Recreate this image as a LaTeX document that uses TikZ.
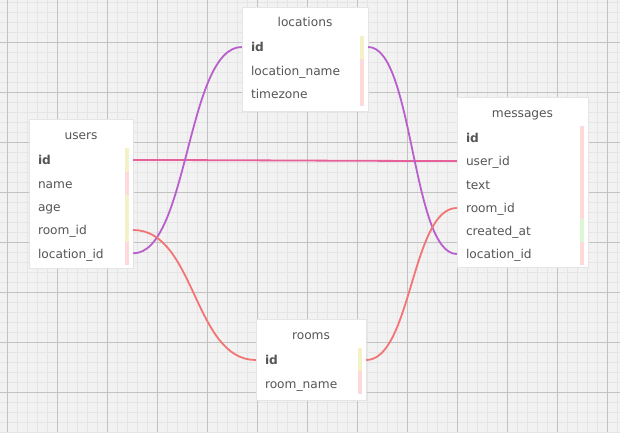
\documentclass[tikz,border=0pt]{standalone}
\usepackage{fontspec}
\setmainfont{DejaVu Sans}
\definecolor{bgc}{HTML}{F2F2F2}
\definecolor{minorc}{HTML}{E5E5E5}
\definecolor{majorc}{HTML}{C2C2C2}
\definecolor{txt}{HTML}{555555}
\definecolor{pinkc}{HTML}{E6609A}
\definecolor{purplec}{HTML}{B95FCB}
\definecolor{salmonc}{HTML}{F27474}
\definecolor{baryel}{HTML}{F4F1C6}
\definecolor{barpink}{HTML}{FDD9D9}
\definecolor{bargrn}{HTML}{DAF9D3}
\tikzset{
  card/.style={draw=black!10, fill=white, inner sep=0pt},
  ttl/.style={font=\fontsize{12.2}{14}\selectfont, text=txt, inner sep=0pt, text height=10.5pt, text depth=1pt},
  row/.style={font=\fontsize{12.2}{14}\selectfont, text=txt, inner xsep=9pt, inner ysep=0pt, align=left, text height=10.5pt, text depth=1pt},
  conn/.style={line width=1.8pt},
}
\begin{document}
\begin{tikzpicture}[x=1pt,y=-1pt]
\useasboundingbox (0,0) rectangle (620,432);
\fill[bgc] (0,0) rectangle (620,432);
\foreach \x in {7.5,17.5,...,617.5} \draw[minorc,line width=1pt] (\x,0)--(\x,432);
\foreach \y in {2.5,12.5,...,432.5} \draw[minorc,line width=1pt] (0,\y)--(620,\y);
\foreach \x in {7.5,57.5,...,607.5} \draw[majorc,line width=1pt] (\x,0)--(\x,432);
\foreach \y in {42.5,92.5,...,392.5} \draw[majorc,line width=1pt] (0,\y)--(620,\y);

% users
\node[card, minimum width=104pt, minimum height=149pt] (users) at (81,193.5) {};
\node[ttl] (u-t) at (81,135) {users};
\node[row, text width=86pt] (u-id) at (81,160) {\textbf{id}};
\node[row, text width=86pt] (u-name) at (81,183.3) {name};
\node[row, text width=86pt] (u-age) at (81,206.7) {age};
\node[row, text width=86pt] (u-room) at (81,230) {room\_id};
\node[row, text width=86pt] (u-loc) at (81,253.3) {location\_id};
\fill[baryel] (125,148) rectangle (129,171.5);
\fill[barpink] (125,171.5) rectangle (129,194.5);
\fill[baryel] (125,194.5) rectangle (129,241.5);
\fill[barpink] (125,241.5) rectangle (129,264.5);

% locations
\node[card, minimum width=126pt, minimum height=104pt] (locations) at (305,59) {};
\node[ttl] (l-t) at (305,22) {locations};
\node[row, text width=108pt] (l-id) at (305,47) {\textbf{id}};
\node[row, text width=108pt] (l-name) at (305,70.5) {location\_name};
\node[row, text width=108pt] (l-tz) at (305,94) {timezone};
\fill[baryel] (360,36) rectangle (364,58.7);
\fill[barpink] (360,58.7) rectangle (364,106);

% messages
\node[card, minimum width=131pt, minimum height=170pt] (messages) at (522.5,182) {};
\node[ttl] (m-t) at (522.5,113) {messages};
\node[row, text width=113pt] (m-id) at (522.5,138) {\textbf{id}};
\node[row, text width=113pt] (m-uid) at (522.5,161) {user\_id};
\node[row, text width=113pt] (m-text) at (522.5,184.5) {text};
\node[row, text width=113pt] (m-room) at (522.5,208) {room\_id};
\node[row, text width=113pt] (m-cat) at (522.5,231) {created\_at};
\node[row, text width=113pt] (m-loc) at (522.5,254) {location\_id};
\fill[barpink] (579.5,126) rectangle (583.8,219.3);
\fill[bargrn] (579.5,219.3) rectangle (583.8,242);
\fill[barpink] (579.5,242) rectangle (583.8,265);

% rooms
\node[card, minimum width=110pt, minimum height=81pt] (rooms) at (311,359.5) {};
\node[ttl] (r-t) at (311,335) {rooms};
\node[row, text width=92pt] (r-id) at (311,360) {\textbf{id}};
\node[row, text width=92pt] (r-name) at (311,384) {room\_name};
\fill[baryel] (358,348) rectangle (362,371);
\fill[barpink] (358,371) rectangle (362,394);

% connectors
\draw[conn, pinkc] (u-id.east) .. controls +(100,0) and +(-100,0) .. (m-uid.west);
\draw[conn, purplec] (u-loc.east) .. controls +(55,0) and +(-55,0) .. (l-id.west);
\draw[conn, purplec] (l-id.east) .. controls +(45,0) and +(-45,0) .. (m-loc.west);
\draw[conn, salmonc] (u-room.east) .. controls +(62,0) and +(-62,0) .. (r-id.west);
\draw[conn, salmonc] (r-id.east) .. controls +(45,0) and +(-45,0) .. (m-room.west);
\end{tikzpicture}
\end{document}
